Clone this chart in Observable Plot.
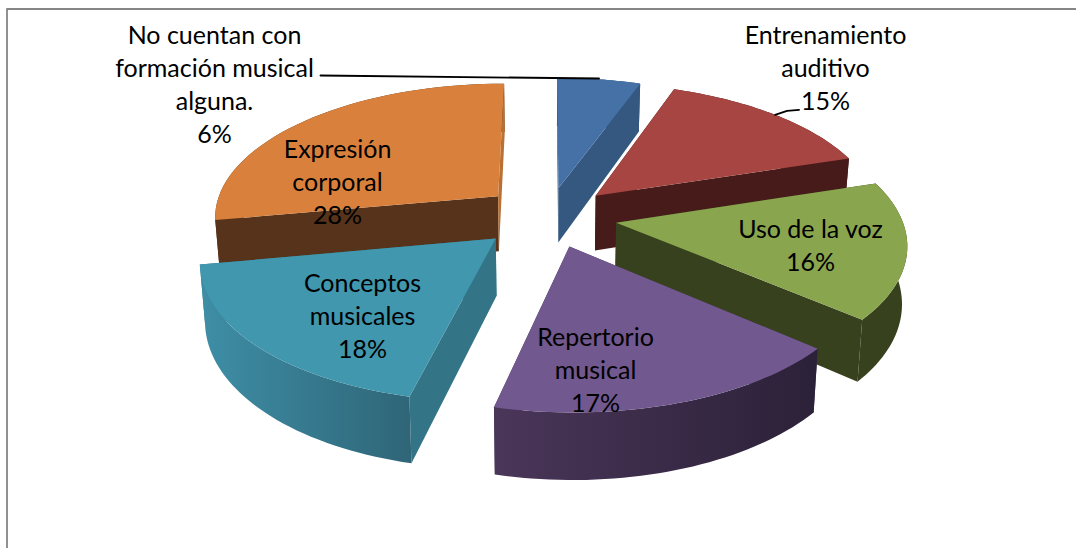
<!DOCTYPE html>
<html><head><meta charset="utf-8">
<script src="https://cdn.jsdelivr.net/npm/d3@7"></script>
<script src="https://cdn.jsdelivr.net/npm/@observablehq/plot@0.6"></script>
<style>html,body{margin:0;padding:0;background:#fff}svg{display:block}</style>
</head><body>
<script>
// Data
const categories = ["No cuentan con formación musical alguna.", "Entrenamiento auditivo", "Uso de la voz", "Repertorio musical", "Conceptos musicales", "Expresión corporal"];
const shares = [5.5, 14.6, 16.2, 17.4, 18.4, 27.9];
const labelLines = [
  ["No cuentan con", "formación musical", "alguna."],
  ["Entrenamiento", "auditivo"],
  ["Uso de la voz"],
  ["Repertorio", "musical"],
  ["Conceptos", "musicales"],
  ["Expresión", "corporal"]
];
// Styling and layout
const topColors = ["#4571a6", "#a74543", "#89a54e", "#71588f", "#4097ae", "#d9813c"];
const startColors = ["#34587f", "#471b19", "#37411d", "#4a3659", "#337587", "#56331a"];
const endColors = ["#34587f", "#471b19", "#37411d", "#4a3659", "#337587", "#b87033"];
const arcFrom = ["#34587f", "#471b19", "#37411d", "#4a3659", "#3e8ea6", "#56331a"];
const arcTo = ["#34587f", "#471b19", "#37411d", "#2b2138", "#2f6577", "#56331a"];
const arcBehind = [true, true, true, false, false, true];
const paintOrder = [0, 1, 5, 2, 4, 3];
const labelAnchors = [[214, 35], [825, 35], [810, 229], [595, 337], [362, 283], [337, 149]];
const explodeBy = [0.23, 0.23, 0.23, 0.23, 0.24, 0.23];
const nudges = [[-1, 0], [1, -1], [3, -1], [0, -1], [-2, -1.5], [-1, -2]];
// Projection of the pie plane
const cx = 548, cy = 217, a = 285, b = 133.4, p = 0.14, depth = 56, taper = 0.985;
const project = (X, Y, low, n = [0, 0]) => {
  const k = 1 / (1 + p * Y);
  const x = a * X * k;
  return [cx + (low ? x * taper : x) + n[0], cy - b * Y * k + (low ? depth * k : 0) + n[1]];
};
const total = d3.sum(shares);
let acc = 0;
const wedges = shares.map((s, i) => {
  const t0 = acc / total * 2 * Math.PI; acc += s;
  const t1 = acc / total * 2 * Math.PI;
  const m = (t0 + t1) / 2;
  const ox = explodeBy[i] * Math.sin(m), oy = explodeBy[i] * Math.cos(m);
  const rim = d3.range(41).map(j => {
    const t = t0 + (t1 - t0) * j / 40;
    return [ox + Math.sin(t), oy + Math.cos(t)];
  });
  return {i, apex: [ox, oy], rim};
});
const polys = [];
const add = (id, fill, pts) => pts.forEach(q => polys.push({id, fill, x: q[0], y: q[1]}));
paintOrder.forEach(i => {
  const w = wedges[i], n = nudges[i];
  const hi = w.rim.map(q => project(q[0], q[1], false, n));
  const lo = w.rim.map(q => project(q[0], q[1], true, n));
  const ah = project(w.apex[0], w.apex[1], false, n), al = project(w.apex[0], w.apex[1], true, n);
  const arc = () => add(i + "a", `url(#arc${i})`, [...hi, ...lo.slice().reverse()]);
  if (arcBehind[i]) arc();
  add(i + "s", startColors[i], [ah, hi[0], lo[0], al]);
  add(i + "e", endColors[i], [ah, hi[40], lo[40], al]);
  if (!arcBehind[i]) arc();
  add(i + "t", topColors[i], [ah, ...hi]);
});
const defs = () => {
  const s = d3.create("svg:defs");
  wedges.forEach(w => {
    const xs = w.rim.map(q => project(q[0], q[1], false)[0]);
    const g = s.append("linearGradient").attr("id", "arc" + w.i).attr("gradientUnits", "userSpaceOnUse")
      .attr("x1", d3.min(xs)).attr("x2", d3.max(xs)).attr("y1", 0).attr("y2", 0);
    g.append("stop").attr("offset", 0).attr("stop-color", arcFrom[w.i]);
    g.append("stop").attr("offset", 1).attr("stop-color", arcTo[w.i]);
  });
  return s.node();
};
const lh = 33;
const texts = [];
labelLines.forEach((lines, i) => {
  [...lines, Math.round(shares[i]) + "%"].forEach((t, j) => texts.push({t, x: labelAnchors[i][0], y: labelAnchors[i][1] + j * lh}));
});
const blueTip = project(wedges[0].rim[20][0], wedges[0].rim[20][1], false, nudges[0]);
const redTip = project(wedges[1].rim[20][0], wedges[1].rim[20][1], false, nudges[1]);
const leaders = [
  {z: 0, x: 320, y: 75}, {z: 0, x: blueTip[0], y: 78},
  {z: 1, x: redTip[0], y: redTip[1]}, {z: 1, x: redTip[0] + 12, y: redTip[1] - 4}, {z: 1, x: redTip[0] + 24, y: redTip[1] - 5}
];
const chart = Plot.plot({
  width: 1076, height: 548, margin: 0,
  x: {domain: [0, 1076], range: [0, 1076], axis: null},
  y: {domain: [0, 548], range: [0, 548], axis: null},
  style: {background: "#fff", fontFamily: "Lato, sans-serif"},
  marks: [
    defs,
    Plot.line([{x: 6.5, y: 548}, {x: 6.5, y: 8.5}, {x: 1076, y: 8.5}], {x: "x", y: "y", stroke: "#858585", strokeWidth: 1.8}),
    Plot.line(polys, {x: "x", y: "y", z: "id", fill: "fill", stroke: "none"}),
    Plot.line(leaders, {x: "x", y: "y", z: "z", stroke: "#000", strokeWidth: 1.8}),
    Plot.text(texts, {x: "x", y: "y", text: "t", fontSize: 25, fill: "#000"})
  ]
});
document.body.appendChild(chart);
</script>
</body></html>
